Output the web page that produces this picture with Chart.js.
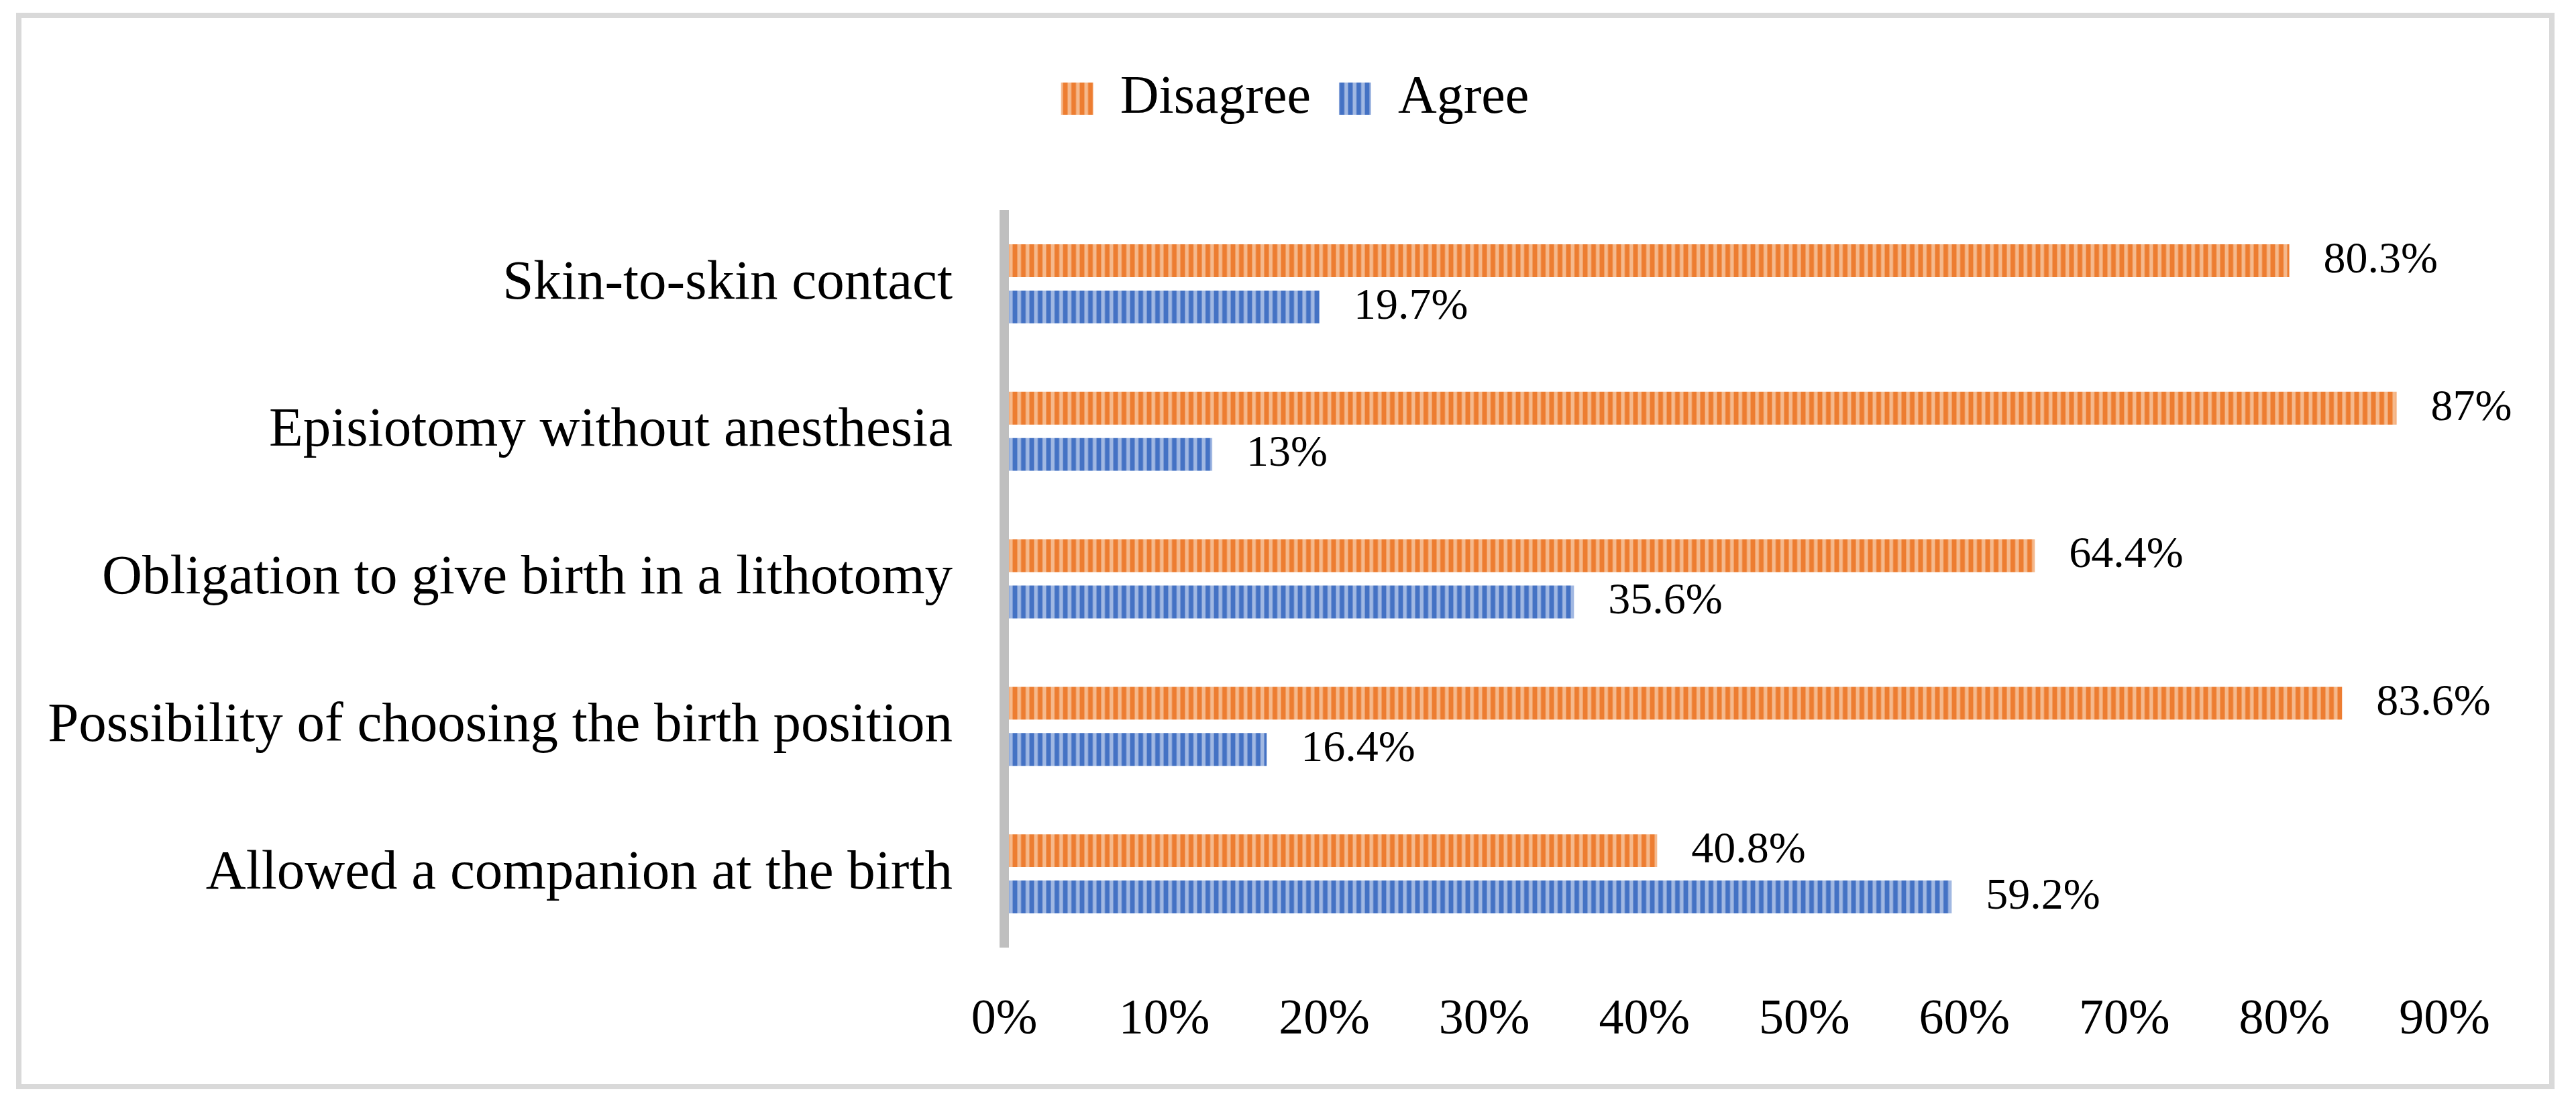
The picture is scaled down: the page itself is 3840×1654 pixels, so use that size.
<!DOCTYPE html>
<html>
<head>
<meta charset="utf-8">
<script src="https://cdn.jsdelivr.net/npm/chart.js@4.4.1/dist/chart.umd.min.js"></script>
<style>
  html, body { margin: 0; padding: 0; background: #ffffff; }
  #c { display: block; width: 3840px; height: 1654px; }
</style>
</head>
<body>
<canvas id="c" width="3840" height="1654"></canvas>
<script>
const categories = [
  'Skin-to-skin contact',
  'Episiotomy without anesthesia',
  'Obligation to give birth in a lithotomy',
  'Possibility of choosing the birth position',
  'Allowed a companion at the birth'
];
const seriesNames = ['Disagree', 'Agree'];
const disagreeValues = [80.3, 87, 64.4, 83.6, 40.8];
const agreeValues = [19.7, 13, 35.6, 16.4, 59.2];
const tickMin = 0;
const tickMax = 90;
const tickStep = 10;

const FONT = "'Liberation Serif', 'Times New Roman', serif";
Chart.defaults.font.family = FONT;
Chart.defaults.color = '#000000';

function stripePattern(light, mid, dark) {
  const tile = document.createElement('canvas');
  tile.width = 25; tile.height = 8;
  const t = tile.getContext('2d');
  t.fillStyle = light; t.fillRect(0, 0, 25, 8);
  [0, 12.5].forEach(off => {
    t.fillStyle = mid; t.fillRect(off - 1, 0, 8, 8);
    t.fillStyle = dark; t.fillRect(off, 0, 6, 8);
  });
  t.fillStyle = mid; t.fillRect(24, 0, 1, 8);
  const ctx = document.getElementById('c').getContext('2d');
  const p = ctx.createPattern(tile, 'repeat');
  try { p.setTransform(new DOMMatrix().translate(10, 0)); } catch (e) {}
  return p;
}
const orangeFill = stripePattern('#F5B98D', '#F19C5E', '#ED7D31');
const blueFill = stripePattern('#A1B8E2', '#7897D3', '#4472C4');

const framePlugin = {
  id: 'frame',
  beforeDraw(chart) {
    const ctx = chart.ctx;
    ctx.save();
    ctx.fillStyle = '#ffffff';
    ctx.fillRect(0, 0, chart.width, chart.height);
    ctx.strokeStyle = '#D9D9D9';
    ctx.lineWidth = 8;
    ctx.strokeRect(28, 23, 3776, 1596);
    ctx.restore();
  }
};

const legendPlacePlugin = {
  id: 'legendPlace',
  afterInit(chart) {
    const lg = chart.legend;
    if (lg && !lg._wrapped) {
      const orig = lg.fit;
      lg.fit = function () { orig.call(this); this.height = 313; };
      lg._wrapped = true;
    }
  },
  afterLayout(chart) {
    if (chart.legend) {
      chart.legend.left = 217;
      chart.legend.top = 65;
    }
  }
};

const valueLabelPlugin = {
  id: 'valueLabels',
  afterDatasetsDraw(chart) {
    const ctx = chart.ctx;
    ctx.save();
    ctx.font = '66px ' + FONT;
    ctx.fillStyle = '#000000';
    ctx.textAlign = 'left';
    ctx.textBaseline = 'middle';
    chart.data.datasets.forEach((ds, di) => {
      const meta = chart.getDatasetMeta(di);
      meta.data.forEach((bar, i) => {
        ctx.fillText(ds.data[i] + '%', bar.x + 51, bar.y);
      });
    });
    ctx.restore();
  }
};

new Chart(document.getElementById('c'), {
  type: 'bar',
  data: {
    labels: categories,
    datasets: [
      { label: seriesNames[0], data: disagreeValues, backgroundColor: orangeFill, borderWidth: 0 },
      { label: seriesNames[1], data: agreeValues, backgroundColor: blueFill, borderWidth: 0 }
    ]
  },
  options: {
    indexAxis: 'y',
    responsive: false,
    devicePixelRatio: 1,
    animation: false,
    events: [],
    categoryPercentage: 0.627,
    barPercentage: 0.71,
    layout: { padding: { left: 0, right: 196, top: 0, bottom: 0 } },
    plugins: {
      legend: {
        display: true,
        position: 'top',
        align: 'center',
        labels: {
          boxWidth: 48,
          boxHeight: 48,
          padding: 42,
          color: '#000000',
          font: { size: 80, family: FONT }
        }
      },
      tooltip: { enabled: false }
    },
    scales: {
      x: {
        type: 'linear',
        min: tickMin,
        max: tickMax,
        ticks: {
          stepSize: tickStep,
          padding: 64,
          maxRotation: 0,
          autoSkip: false,
          color: '#000000',
          font: { size: 74, family: FONT },
          callback: v => v + '%'
        },
        grid: {
          display: true,
          drawTicks: false,
          drawOnChartArea: true,
          z: 1,
          lineWidth: 14,
          color: c => (c.tick && c.tick.value === 0) ? '#BFBFBF' : 'rgba(0,0,0,0)'
        },
        border: { display: false },
        afterFit: s => { s.height = 242; }
      },
      y: {
        type: 'category',
        ticks: {
          padding: 77,
          autoSkip: false,
          color: '#000000',
          font: { size: 83, family: FONT }
        },
        grid: { display: false, drawTicks: false },
        border: { display: false },
        afterFit: s => { s.width = 1497; }
      }
    }
  },
  plugins: [framePlugin, legendPlacePlugin, valueLabelPlugin]
});
</script>
</body>
</html>
